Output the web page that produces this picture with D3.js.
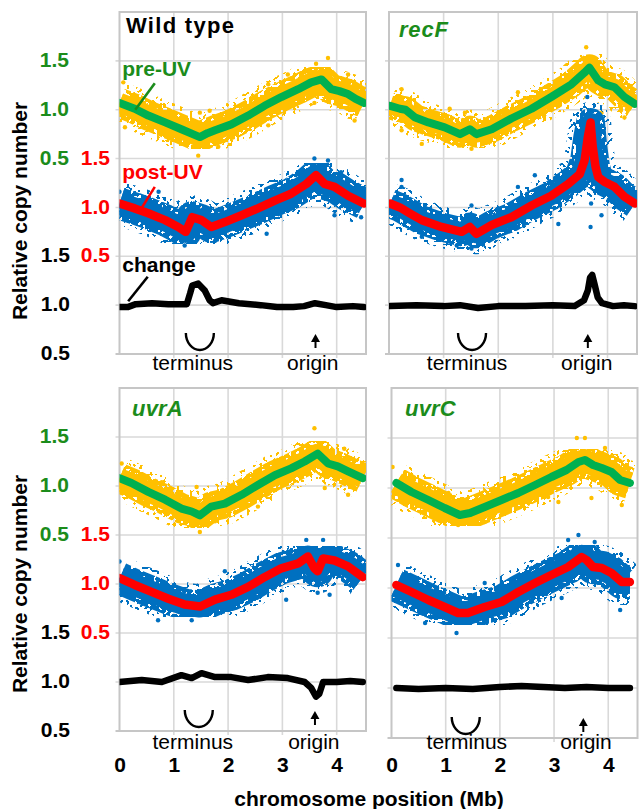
<!DOCTYPE html>
<html>
<head>
<meta charset="utf-8">
<script src="https://cdn.jsdelivr.net/npm/d3@7"></script>
<style>
  body { margin: 0; background: #fff; }
  text { font-family: "Liberation Sans", Arial, Helvetica, sans-serif; }
</style>
</head>
<body>
<svg id="chart" width="641" height="809"></svg>
<script>
// ---- data (Mb, relative copy number) ----
const panelNames = ['Wild type', 'recF', 'uvrA', 'uvrC'];
const xTicks = [0, 1, 2, 3, 4];
const yTickValues = [0.5, 1.0, 1.5];
const terminusMb = [1.48, 1.52, 1.46, 1.37];
const originMb = [3.61, 3.64, 3.60, 3.54];
const terminusLabelMb = [1.35, 1.43, 1.35, 1.39];
const originLabelMb = [3.56, 3.62, 3.58, 3.59];

const wtPre = [[0,1.07],[0.28,1.01],[0.53,0.94],[0.84,0.87],[1.14,0.80],[1.35,0.75],[1.48,0.72],[1.62,0.76],[1.76,0.79],[2.06,0.85],[2.37,0.94],[2.67,1.04],[2.98,1.13],[3.29,1.21],[3.53,1.28],[3.72,1.31],[3.90,1.21],[4.05,1.19],[4.21,1.16],[4.35,1.11],[4.50,1.07]];
const wtPost = [[0,1.04],[0.28,0.99],[0.53,0.94],[0.84,0.87],[1.08,0.80],[1.22,0.75],[1.30,0.85],[1.34,0.90],[1.51,0.87],[1.69,0.80],[1.94,0.85],[2.25,0.92],[2.55,0.99],[2.86,1.07],[3.16,1.14],[3.44,1.24],[3.62,1.33],[3.78,1.24],[3.96,1.21],[4.21,1.12],[4.50,1.04]];
const wtChange = [[0,0.98],[0.15,0.98],[0.3,1.01],[0.6,1.02],[0.9,1.01],[1.1,1.01],[1.24,1.01],[1.30,1.12],[1.34,1.20],[1.45,1.22],[1.57,1.15],[1.66,1.05],[1.72,1.02],[1.88,1.05],[2.2,1.02],[2.6,1.0],[2.9,0.98],[3.2,0.98],[3.4,0.99],[3.6,1.02],[3.8,1.0],[4.0,0.98],[4.3,0.99],[4.50,0.98]];
const wtPreDots = [[3.84,1.53],[3.62,1.47],[4.33,0.89],[1.45,0.53],[1.82,0.62],[1.14,0.65],[1.48,0.97],[1.66,0.99],[2.74,1.26],[3.10,1.36],[0.07,1.28],[0.10,0.82],[2.74,0.84],[4.21,1.36],[3.59,1.07]];
const wtPostDots = [[0,1.16],[1.20,0.61],[2.71,0.73],[3.59,1.50],[3.84,1.48],[3.96,0.92],[4.45,0.90],[0.72,1.16],[1.76,0.66],[4.08,1.36],[3.10,1.28]];

const recfPre = [[0.02,1.04],[0.20,1.01],[0.30,1.0],[0.48,0.92],[0.72,0.87],[1.02,0.82],[1.30,0.75],[1.48,0.80],[1.60,0.75],[1.88,0.80],[2.24,0.91],[2.61,1.01],[2.97,1.13],[3.34,1.26],[3.58,1.38],[3.67,1.43],[3.83,1.30],[3.95,1.26],[4.13,1.23],[4.31,1.13],[4.50,1.06]];
const recfPost = [[0.02,1.04],[0.20,1.00],[0.38,0.94],[0.60,0.87],[0.96,0.80],[1.33,0.75],[1.48,0.80],[1.60,0.73],[1.88,0.82],[2.24,0.90],[2.61,1.02],[2.97,1.12],[3.28,1.24],[3.49,1.34],[3.58,1.48],[3.64,1.72],[3.69,1.87],[3.73,1.62],[3.78,1.42],[3.83,1.31],[3.95,1.26],[4.13,1.21],[4.31,1.11],[4.50,1.04]];
const recfChange = [[0.02,0.99],[0.5,1.0],[1.0,0.99],[1.3,1.0],[1.63,0.97],[2.0,0.99],[2.5,0.99],[3.0,1.0],[3.4,0.99],[3.57,1.05],[3.64,1.15],[3.68,1.28],[3.72,1.31],[3.76,1.22],[3.82,1.08],[3.90,1.02],[4.1,0.99],[4.3,1.0],[4.50,0.99]];
const recfPreDots = [[0.23,1.21],[0.23,0.79],[1.39,0.97],[1.51,0.60],[2.36,1.18],[3.61,1.64],[3.89,0.97],[4.31,0.92],[0.60,0.65],[1.11,1.01],[3.10,1.04]];
const recfPostDots = [[0.23,1.28],[0.23,1.21],[1.51,1.02],[2.36,1.21],[2.67,1.33],[3.10,0.83],[3.63,2.13],[3.58,1.82],[3.69,0.80],[3.70,1.04],[3.89,0.92],[1.24,0.61],[1.51,0.58],[0.60,0.70]];

const uvraPre = [[0,1.08],[0.22,1.03],[0.53,0.94],[0.84,0.86],[1.14,0.77],[1.33,0.74],[1.48,0.70],[1.69,0.79],[1.94,0.82],[2.25,0.91],[2.55,1.01],[2.86,1.11],[3.16,1.18],[3.41,1.25],[3.65,1.33],[3.84,1.23],[4.02,1.20],[4.21,1.15],[4.48,1.08]];
const uvraPost = [[0,1.06],[0.28,0.99],[0.59,0.92],[0.90,0.85],[1.20,0.79],[1.48,0.77],[1.76,0.84],[2.06,0.89],[2.37,0.97],[2.67,1.07],[2.98,1.16],[3.29,1.21],[3.47,1.28],[3.59,1.16],[3.65,1.13],[3.75,1.26],[3.96,1.24],[4.21,1.18],[4.48,1.07]];
const uvraChange = [[0,1.0],[0.41,1.02],[0.78,1.0],[1.14,1.07],[1.33,1.04],[1.51,1.09],[1.76,1.05],[2.06,1.05],[2.37,1.02],[2.73,1.05],[3.10,1.04],[3.41,1.0],[3.53,0.94],[3.62,0.85],[3.68,0.88],[3.75,1.0],[4.0,1.0],[4.25,1.01],[4.48,1.0]];
const uvraPreDots = [[3.59,1.59],[1.48,0.53],[1.42,0.99],[3.78,0.98],[4.14,1.38],[4.21,0.91],[0.78,1.04],[0.04,1.23],[1.76,0.64],[2.55,0.79]];
const uvraPostDots = [[0.71,0.63],[3.75,1.45],[3.44,1.45],[3.65,0.91],[3.87,0.89],[3.07,0.84],[1.94,1.13],[0,1.23],[1.33,0.63],[4.45,1.26]];

const uvrcPre = [[0.09,1.05],[0.37,0.96],[0.68,0.88],[0.98,0.80],[1.26,0.73],[1.45,0.75],[1.72,0.81],[2.03,0.88],[2.34,0.95],[2.65,1.03],[2.95,1.11],[3.23,1.18],[3.45,1.26],[3.57,1.28],[3.72,1.23],[3.88,1.20],[4.06,1.16],[4.22,1.08],[4.40,1.05]];
const uvrcPost = [[0.09,1.03],[0.37,0.96],[0.68,0.88],[0.98,0.81],[1.23,0.75],[1.41,0.75],[1.72,0.81],[2.03,0.86],[2.34,0.96],[2.65,1.05],[2.95,1.13],[3.26,1.21],[3.51,1.31],[3.60,1.28],[3.72,1.21],[3.88,1.20],[4.06,1.15],[4.25,1.06],[4.40,1.06]];
const uvrcChange = [[0.09,1.0],[0.5,0.99],[1.0,1.0],[1.5,0.99],[2.0,1.01],[2.4,1.02],[2.8,1.01],[3.2,1.0],[3.6,1.01],[4.0,1.0],[4.40,1.0]];
const uvrcPreDots = [[3.42,1.50],[3.57,1.50],[3.69,0.90],[4.25,0.83],[1.05,0.95],[1.72,0.66],[1.23,0.63],[0.02,1.21],[3.08,0.86],[2.89,0.91],[3.94,1.40]];
const uvrcPostDots = [[3.45,1.53],[3.26,1.48],[1.20,0.55],[4.22,0.78],[3.75,1.46],[0.62,0.65],[3.14,0.90],[0.12,1.23],[1.72,1.05]];

// ---- layout ----
const colors = {
  yellow: '#ffc000', green: '#00b050', blue: '#0070c0', red: '#ff0000',
  black: '#000000', greenText: '#1b8c1b', grid: '#d9d9d9', frame: '#c6c6c6'
};
const offsets = { pre: 1.5, post: 0.5, change: -0.5 };

const frames = [
  { x0: 119.5, x1: 366, y0: 12, y1: 354, labelY: 363, tx: 126, ty: 32.5 },
  { x0: 389, x1: 637, y0: 12, y1: 354, labelY: 363, tx: 399, ty: 37 },
  { x0: 119.5, x1: 366, y0: 388, y1: 731, labelY: 742, tx: 132, ty: 416 },
  { x0: 391.5, x1: 637.5, y0: 388, y1: 738, labelY: 742, tx: 405, ty: 416 }
];

const panels = [
  { pre: wtPre, post: wtPost, change: wtChange, preDots: wtPreDots, postDots: wtPostDots, wPre: 22, wPost: 24 },
  { pre: recfPre, post: recfPost, change: recfChange, preDots: recfPreDots, postDots: recfPostDots, wPre: 19, wPost: 21 },
  { pre: uvraPre, post: uvraPost, change: uvraChange, preDots: uvraPreDots, postDots: uvraPostDots, wPre: 22, wPost: 24 },
  { pre: uvrcPre, post: uvrcPost, change: uvrcChange, preDots: uvrcPreDots, postDots: uvrcPostDots, wPre: 24, wPost: 26 }
];

const svg = d3.select('#chart');

// speckle textures so the cloud edges read as scattered points
const defs = svg.append('defs');
const speckle = (id, table, freq, seed) => {
  const flt = defs.append('filter').attr('id', id)
    .attr('x', '-5%').attr('y', '-20%').attr('width', '110%').attr('height', '140%');
  flt.append('feTurbulence').attr('type', 'fractalNoise')
    .attr('baseFrequency', freq).attr('numOctaves', 1).attr('seed', seed).attr('result', 'noise');
  flt.append('feColorMatrix').attr('in', 'noise').attr('type', 'matrix')
    .attr('values', '0 0 0 0 0  0 0 0 0 0  0 0 0 0 0  1 0 0 0 0').attr('result', 'a');
  flt.append('feComponentTransfer').attr('in', 'a').attr('result', 'mask')
    .append('feFuncA').attr('type', 'discrete').attr('tableValues', table);
  flt.append('feComposite').attr('in', 'SourceGraphic').attr('in2', 'mask').attr('operator', 'in');
};
speckle('speckleDense', '0 0 0 0 1 1 1 1 1 1', 0.26, 4);
speckle('speckleSparse', '0 0 0 0 0 0 1 1 1 1', 0.3, 9);

panels.forEach((p, i) => {
  const f = frames[i];
  const x = d3.scaleLinear().domain([0, 4.54]).range([f.x0, f.x1]);
  const y = d3.scaleLinear().domain([0, 3.5]).range([f.y1, f.y0]);
  const g = svg.append('g');

  // grid
  const gridY = d3.range(0.5, 3.5, 0.5);
  g.selectAll('.gy').data(gridY).enter().append('line')
    .attr('x1', f.x0 - 4).attr('x2', f.x1)
    .attr('y1', d => y(d)).attr('y2', d => y(d))
    .attr('stroke', colors.grid).attr('stroke-width', 1.6);
  g.selectAll('.gx').data(xTicks.slice(1)).enter().append('line')
    .attr('x1', d => x(d)).attr('x2', d => x(d))
    .attr('y1', f.y0).attr('y2', f.y1 + 4)
    .attr('stroke', colors.grid).attr('stroke-width', 1.6);
  g.append('rect')
    .attr('x', f.x0).attr('y', f.y0)
    .attr('width', f.x1 - f.x0).attr('height', f.y1 - f.y0)
    .attr('fill', 'none').attr('stroke', colors.frame).attr('stroke-width', 2);
  g.append('line')
    .attr('x1', f.x0 - 4).attr('x2', f.x0).attr('y1', f.y1).attr('y2', f.y1)
    .attr('stroke', colors.frame).attr('stroke-width', 2);

  const clipId = `clip${i}`;
  svg.append('clipPath').attr('id', clipId).append('rect')
    .attr('x', f.x0).attr('y', f.y0).attr('width', f.x1 - f.x0).attr('height', f.y1 - f.y0);
  const plot = g.append('g').attr('clip-path', `url(#${clipId})`);

  const line = (off) => d3.line().x(d => x(d[0])).y(d => y(d[1] + off));

  // scatter clouds
  [['pre', colors.yellow, p.wPre], ['post', colors.blue, p.wPost]].forEach(([k, c, w]) => {
    const d = line(offsets[k])(p[k]);
    plot.append('path').attr('d', d)
      .attr('fill', 'none').attr('stroke', c).attr('stroke-width', w + 20)
      .attr('stroke-linejoin', 'round').attr('filter', 'url(#speckleSparse)');
    plot.append('path').attr('d', d)
      .attr('fill', 'none').attr('stroke', c).attr('stroke-width', w + 8)
      .attr('stroke-linejoin', 'round').attr('filter', 'url(#speckleDense)');
    plot.append('path').attr('d', d)
      .attr('fill', 'none').attr('stroke', c).attr('stroke-width', w - 2)
      .attr('stroke-linejoin', 'round');
    plot.selectAll(`.dot-${k}`).data(p[k + 'Dots']).enter().append('circle')
      .attr('cx', dd => x(dd[0])).attr('cy', dd => y(dd[1] + offsets[k]))
      .attr('r', 2.2).attr('fill', c);
  });

  // running averages
  plot.append('path').attr('d', line(offsets.pre)(p.pre))
    .attr('fill', 'none').attr('stroke', colors.green).attr('stroke-width', 8)
    .attr('stroke-linejoin', 'round').attr('stroke-linecap', 'round');
  plot.append('path').attr('d', line(offsets.post)(p.post))
    .attr('fill', 'none').attr('stroke', colors.red).attr('stroke-width', 8.5)
    .attr('stroke-linejoin', 'round').attr('stroke-linecap', 'round');
  plot.append('path').attr('d', line(offsets.change)(p.change))
    .attr('fill', 'none').attr('stroke', colors.black).attr('stroke-width', 6.5)
    .attr('stroke-linejoin', 'round').attr('stroke-linecap', 'round');

  // terminus / origin marks
  const tx = x(terminusMb[i]);
  g.append('path')
    .attr('d', `M${tx - 14},${f.y1 - 21} A14,17 0 0 0 ${tx + 14},${f.y1 - 21}`)
    .attr('fill', 'none').attr('stroke', '#000').attr('stroke-width', 2.4);
  const ox = x(originMb[i]);
  g.append('line').attr('x1', ox).attr('x2', ox).attr('y1', f.y1 - 6).attr('y2', f.y1 - 14)
    .attr('stroke', '#000').attr('stroke-width', 2);
  g.append('path')
    .attr('d', `M${ox - 4.5},${f.y1 - 12} L${ox},${f.y1 - 20} L${ox + 4.5},${f.y1 - 12} Z`)
    .attr('fill', '#000');
  g.append('text').attr('x', x(terminusLabelMb[i])).attr('y', f.labelY).attr('dy', '0.35em')
    .attr('text-anchor', 'middle').attr('font-size', 21).text('terminus');
  g.append('text').attr('x', x(originLabelMb[i])).attr('y', f.labelY).attr('dy', '0.35em')
    .attr('text-anchor', 'middle').attr('font-size', 21).text('origin');

  // panel title
  const title = g.append('text').attr('x', f.tx).attr('y', f.ty)
    .attr('font-size', 22).attr('font-weight', 'bold').text(panelNames[i]);
  if (i === 0) {
    title.attr('fill', '#000').attr('letter-spacing', 1.3);
  } else {
    title.attr('fill', colors.greenText).attr('font-style', 'italic').attr('letter-spacing', i === 1 ? 0.8 : 0.2);
  }

  // left axes (left column only)
  if (i % 2 === 0) {
    [['pre', colors.greenText, f.x0 - 69], ['post', colors.red, f.x0 - 110], ['change', colors.black, f.x0 - 70]]
      .forEach(([k, c, pad]) => {
        const ax = d3.axisLeft(y)
          .tickValues(yTickValues.map(v => v + offsets[k]))
          .tickFormat(d => (d - offsets[k]).toFixed(1))
          .tickSize(0).tickPadding(pad);
        const ag = g.append('g').attr('transform', `translate(${f.x0},0)`).call(ax);
        ag.select('.domain').remove();
        ag.selectAll('text').attr('fill', c).attr('font-size', 21)
          .attr('font-weight', 'bold').attr('dy', '0.27em')
          .attr('font-family', '"Liberation Sans", Arial, sans-serif');
      });
  }

  // x axis (bottom row only)
  if (i >= 2) {
    const xa = d3.axisBottom(x).tickValues(xTicks).tickFormat(d3.format('d'))
      .tickSize(0).tickPadding(765 - 7.5 - f.y1);
    const xg = g.append('g').attr('transform', `translate(0,${f.y1})`).call(xa);
    xg.select('.domain').remove();
    xg.selectAll('text').attr('fill', '#000').attr('font-size', 21)
      .attr('font-weight', 'bold')
      .attr('font-family', '"Liberation Sans", Arial, sans-serif');
  }
});

// ---- annotations on the wild type panel ----
const f0 = frames[0];
const ax0 = d3.scaleLinear().domain([0, 4.54]).range([f0.x0, f0.x1]);
const ay0 = d3.scaleLinear().domain([0, 3.5]).range([f0.y1, f0.y0]);
const notes = [
  { label: 'pre-UV', key: 'pre', fill: colors.greenText, tx: 0.05, ty: 1.34, from: [0.65, 1.27], to: [0.29, 1.0] },
  { label: 'post-UV', key: 'post', fill: colors.red, tx: 0.05, ty: 1.29, from: [0.65, 1.21], to: [0.38, 0.97] },
  { label: 'change', key: 'change', fill: colors.black, tx: 0.05, ty: 1.34, from: [0.52, 1.29], to: [0.16, 1.04] }
];
notes.forEach(n => {
  const off = offsets[n.key];
  svg.append('line')
    .attr('x1', ax0(n.from[0])).attr('y1', ay0(n.from[1] + off))
    .attr('x2', ax0(n.to[0])).attr('y2', ay0(n.to[1] + off))
    .attr('stroke', n.fill).attr('stroke-width', 2.6);
  svg.append('text')
    .attr('x', ax0(n.tx)).attr('y', ay0(n.ty + off))
    .attr('fill', n.fill).attr('font-size', 21).attr('font-weight', 'bold')
    .text(n.label);
});

// ---- shared axis titles ----
[211, 584].forEach(cy => {
  svg.append('text')
    .attr('transform', `translate(20,${cy}) rotate(-90)`)
    .attr('dy', '0.35em').attr('text-anchor', 'middle')
    .attr('font-size', 21).attr('font-weight', 'bold')
    .text('Relative copy number');
});
svg.append('text')
  .attr('x', 369).attr('y', 806).attr('text-anchor', 'middle')
  .attr('font-size', 21).attr('font-weight', 'bold')
  .text('chromosome position (Mb)');
</script>
</body>
</html>
